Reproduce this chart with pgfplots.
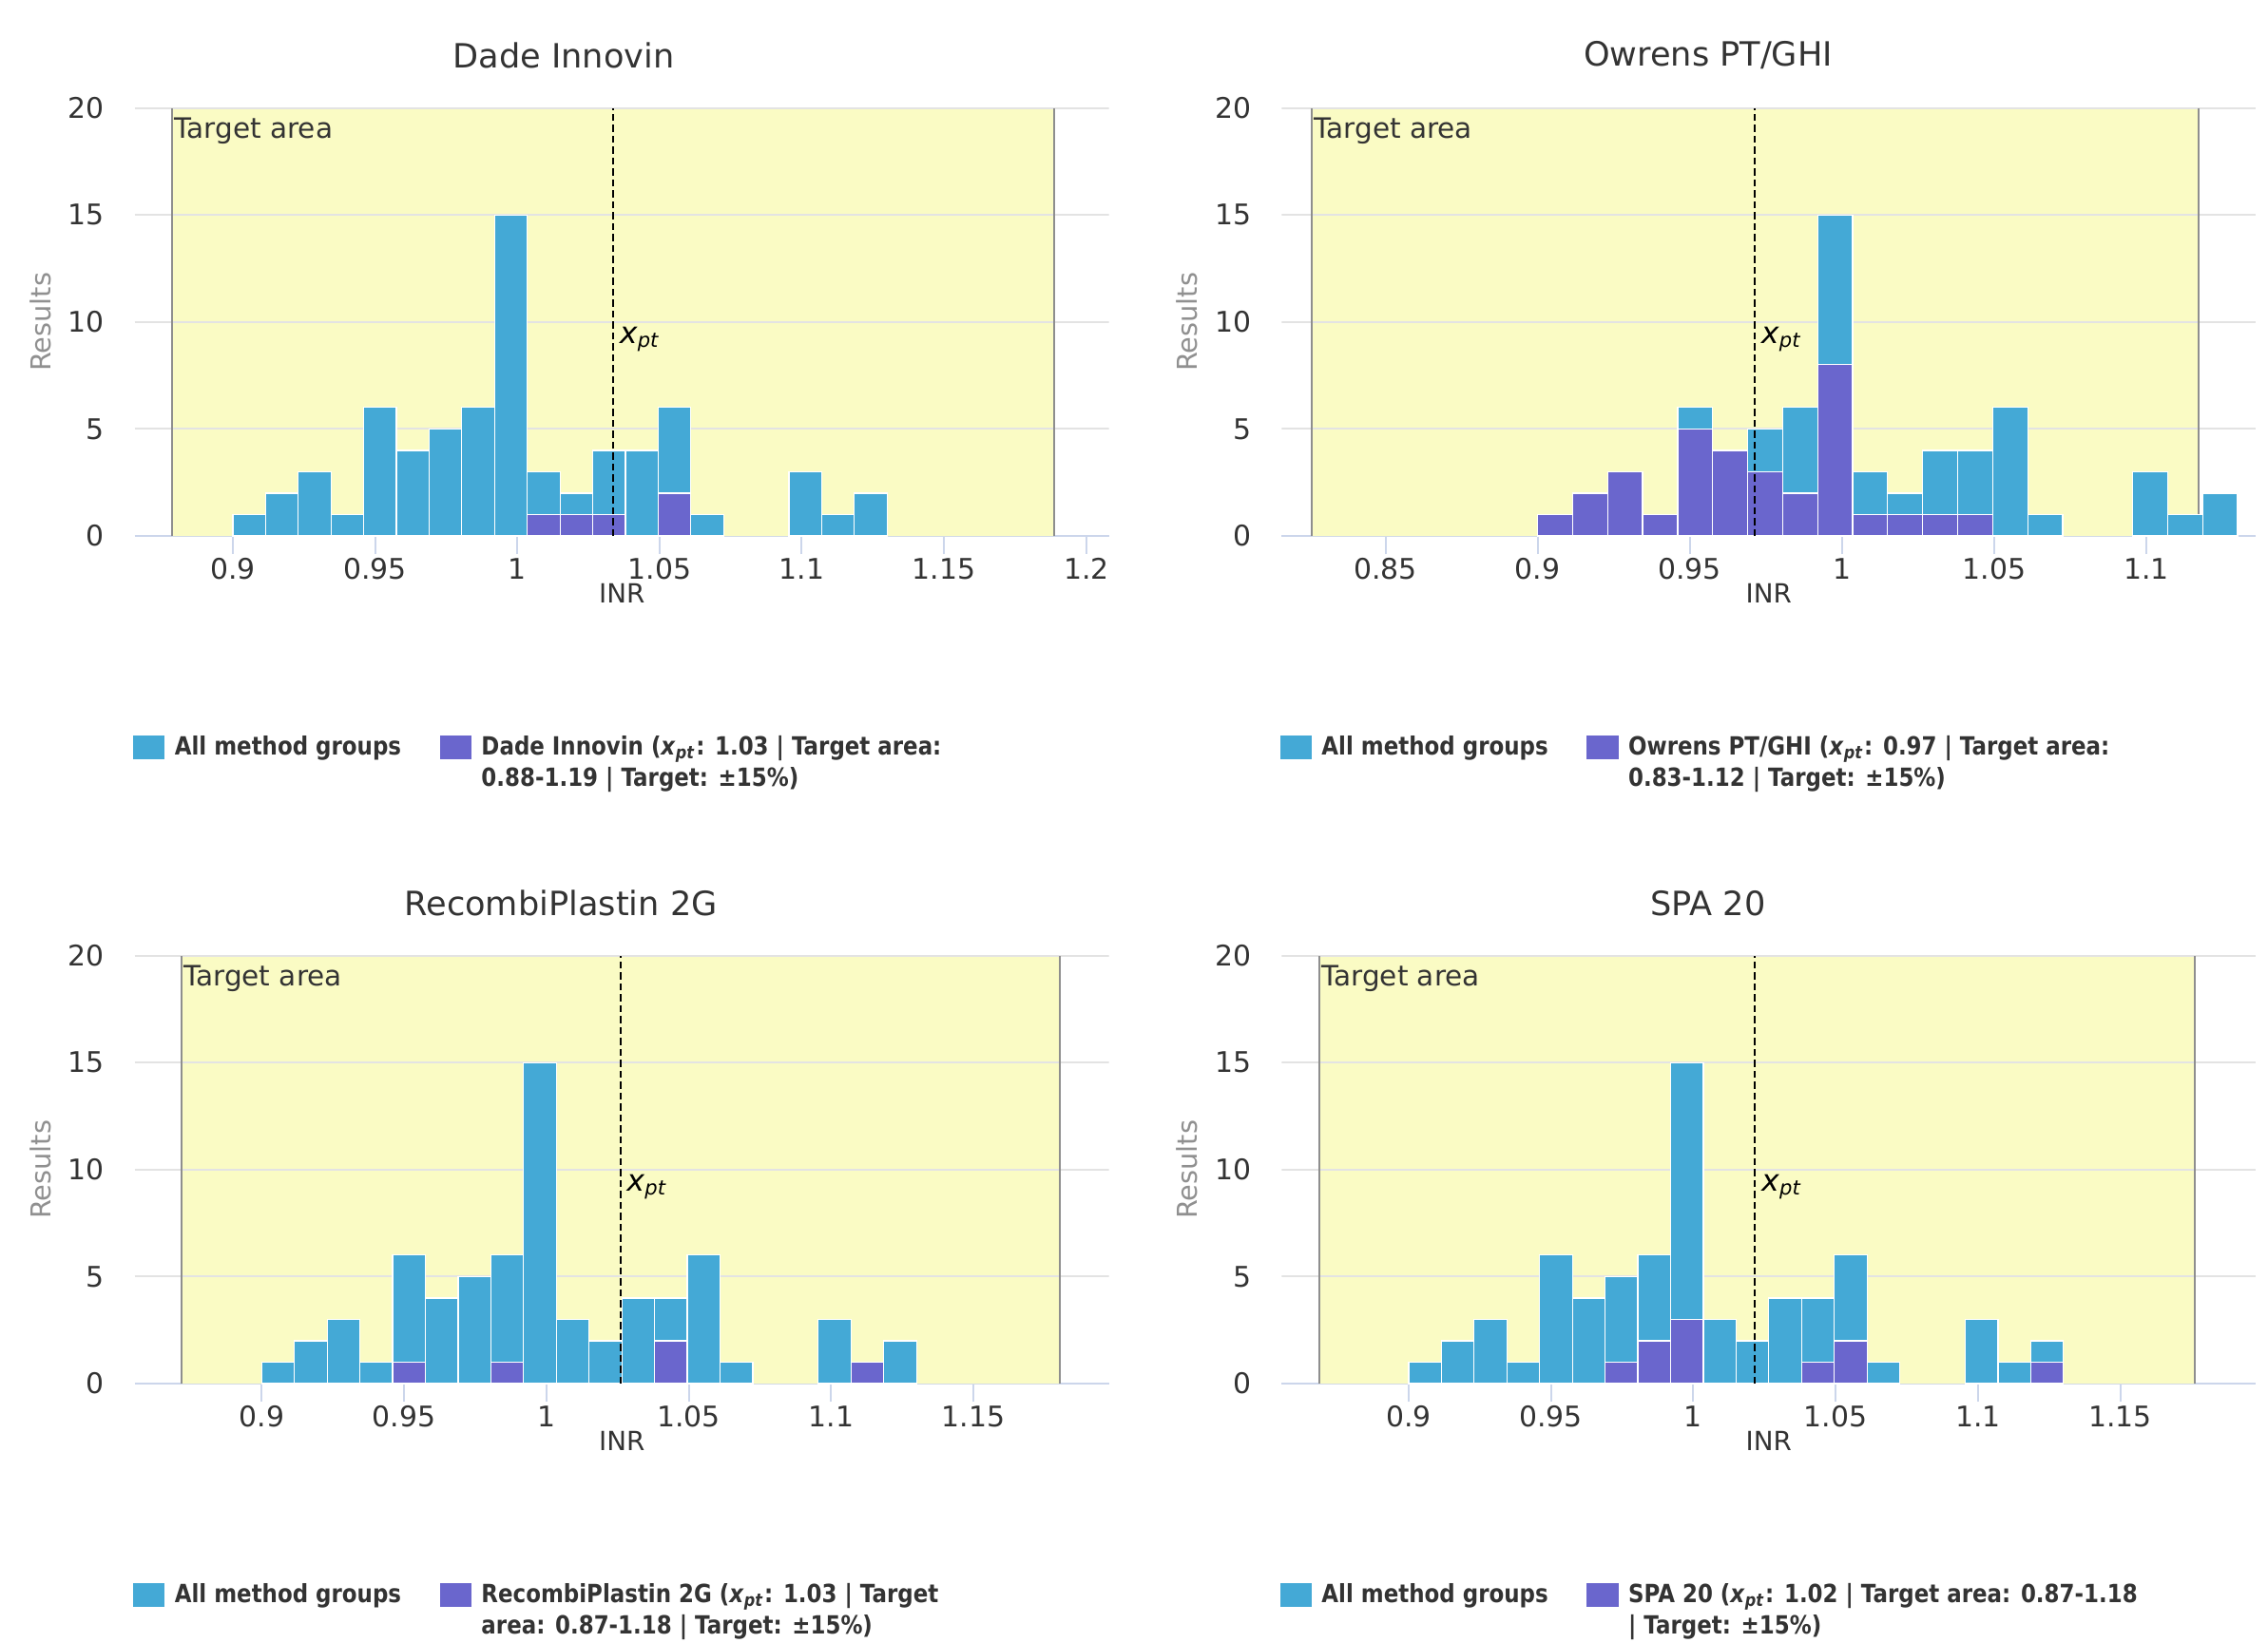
\documentclass[border=0pt]{standalone}
\usepackage{fontspec}
\setmainfont{DejaVu Sans}
\newfontfamily\legfont{DejaVu Sans}[FakeStretch=0.87]
\usepackage{pgfplots}
\usepackage{pgfplotstable}
\pgfplotsset{compat=1.18}

\definecolor{blueC}{HTML}{44A9D6}
\definecolor{purpC}{HTML}{6A66CD}
\definecolor{yellowC}{HTML}{FAFBC4}
\definecolor{gridC}{HTML}{E3E3E3}
\definecolor{axisC}{HTML}{CCD6EB}
\definecolor{bandB}{HTML}{8E8E8E}
\definecolor{labC}{HTML}{333333}
\definecolor{ylabC}{HTML}{909090}

% all method groups, bins of width 0.0115 starting at 0.9 (centres)
\pgfplotstableread{
x y
0.90575 1
0.91725 2
0.92875 3
0.94025 1
0.95175 6
0.96325 4
0.97475 5
0.98625 6
0.99775 15
1.00925 3
1.02075 2
1.03225 4
1.04375 4
1.05525 6
1.06675 1
1.10125 3
1.11275 1
1.12425 2
}\allgroups

\pgfplotstableread{
x y
1.00925 1
1.02075 1
1.03225 1
1.05525 2
}\dade

\pgfplotstableread{
x y
0.90575 1
0.91725 2
0.92875 3
0.94025 1
0.95175 5
0.96325 4
0.97475 3
0.98625 2
0.99775 8
1.00925 1
1.02075 1
1.03225 1
1.04375 1
}\owrens

\pgfplotstableread{
x y
0.95175 1
0.98625 1
1.04375 2
1.11275 1
}\recombi

\pgfplotstableread{
x y
0.97475 1
0.98625 2
0.99775 3
1.04375 1
1.05525 2
1.12425 1
}\spa

\pgfplotsset{
  panel/.style={
    scale only axis, width=102.5mm, height=45.05mm,
    anchor=south west,
    ymin=0, ymax=20, ytick={0,5,10,15,20},
    axis x line*=bottom, axis y line*=left,
    x axis line style={draw=axisC, line width=0.2mm, -},
    y axis line style={draw=none},
    tick align=outside,
    major tick length=1.9mm,
    xtick style={draw=axisC, line width=0.2mm},
    ytick style={draw=none},
    scaled x ticks=false,
    /pgf/number format/assume math mode=true,
    tick label style={font=\fontsize{8.5}{10}\selectfont, text=labC},
    yticklabel style={anchor=east, inner sep=0pt, xshift=-1.2mm},
    xticklabel style={anchor=north, inner sep=0pt, yshift=-0.37mm},
    xlabel={INR}, ylabel={Results},
    xlabel style={at={(0.5,-0.133)}, anchor=center, font=\fontsize{7.9}{9}\selectfont, text=labC},
    ylabel style={at={(-0.097,0.5)}, anchor=center, font=\fontsize{8.2}{10}\selectfont, text=ylabC},
    title style={anchor=center, yshift=-6pt, font=\fontsize{10}{12}\selectfont, text=labC},
    legend cell align=left,
    legend columns=2,
    legend style={at={(-0.0017,-0.4597)}, anchor=north west, draw=none, fill=none,
      inner sep=0pt, outer sep=0pt,
      font=\legfont\bfseries\fontsize{7.5}{9.4}\selectfont, text=labC,
      nodes={inner sep=0pt},
      cells={anchor=base west},
      /tikz/every odd column/.style={column sep=1.05mm},
      /tikz/every even column/.style={column sep=4.05mm}},
  },
  band/.style={fill=yellowC, draw=none, forget plot},
  bandedge/.style={bandB, line width=0.2mm, forget plot},
  gridl/.style={gridC, line width=0.2mm, forget plot},
  allbar/.style={ybar, bar width=0.0115, bar shift=0pt, fill=blueC, draw=white, line width=0.12mm, forget plot},
  grpbar/.style={ybar, bar width=0.0115, bar shift=0pt, fill=purpC, draw=white, line width=0.12mm, forget plot},
  xptline/.style={black, line width=0.2mm, dash pattern=on 0.75mm off 0.4mm, forget plot},
  bluekey/.style={legend image code/.code={\fill[blueC] (0mm,-0.4mm) rectangle (3.2mm,2.0mm);}},
  purpkey/.style={legend image code/.code={\fill[purpC] (0mm,-0.4mm) rectangle (3.2mm,2.0mm);}},
}
\newcommand{\xpt}{\textit{x}\textsubscript{\textit{pt}}}
\newcommand{\targetlabel}[1]{\node[anchor=base west, inner sep=0pt, xshift=0.2mm, yshift=-3.17mm, font=\fontsize{8.4}{10}\selectfont, text=labC] at (axis cs:#1,20) {Target area};}
\newcommand{\xptlabel}[1]{\node[anchor=west, inner sep=0pt, xshift=0.6mm, font=\fontsize{9}{10}\selectfont, text=black] at (axis cs:#1,9.2) {\xpt};}
% background: target band, its edges, horizontal grid lines
\newcommand{\backdrop}[4]{%
  \addplot[band] coordinates {(#1,0) (#1,20) (#2,20) (#2,0)} \closedcycle;
  \addplot[gridl] coordinates {(#3,5) (#4,5)};
  \addplot[gridl] coordinates {(#3,10) (#4,10)};
  \addplot[gridl] coordinates {(#3,15) (#4,15)};
  \addplot[gridl] coordinates {(#3,20) (#4,20)};
  \addplot[bandedge] coordinates {(#1,0) (#1,20)};
  \addplot[bandedge] coordinates {(#2,0) (#2,20)};
}

\begin{document}
\begin{tikzpicture}
\path[use as bounding box, fill=white] (0,0) rectangle (238.6mm,-172.8mm);

% ---------- Dade Innovin ----------
\begin{axis}[panel, at={(14.17mm,-56.4mm)},
  xmin=0.8655, xmax=1.2080, xtick={0.9,0.95,1,1.05,1.1,1.15,1.2},
  title={Dade Innovin}, title style={at={(0.4403,1.1227)}}]
\backdrop{0.8786}{1.1888}{0.8655}{1.2080}
\addplot[allbar] table[x=x,y=y] {\allgroups};
\addplot[grpbar] table[x=x,y=y] {\dade};
\addplot[xptline] coordinates {(1.0337,0) (1.0337,20)};
\targetlabel{0.8786}
\xptlabel{1.0337}
\addlegendimage{bluekey}
\addlegendentry{All method groups}
\addlegendimage{purpkey}
\addlegendentry{\begin{tabular}[t]{@{}l@{}}Dade Innovin (\xpt: 1.03 | Target area:\\0.88-1.19 | Target: ±15\%)\end{tabular}}
\end{axis}

% ---------- Owrens PT/GHI ----------
\begin{axis}[panel, at={(134.83mm,-56.4mm)},
  xmin=0.8159, xmax=1.1360, xtick={0.85,0.9,0.95,1,1.05,1.1},
  title={Owrens PT/GHI}, title style={at={(0.4378,1.1227)}}]
\backdrop{0.8257}{1.1171}{0.8159}{1.1360}
\addplot[allbar] table[x=x,y=y] {\allgroups};
\addplot[grpbar] table[x=x,y=y] {\owrens};
\addplot[xptline] coordinates {(0.9714,0) (0.9714,20)};
\targetlabel{0.8257}
\xptlabel{0.9714}
\addlegendimage{bluekey}
\addlegendentry{All method groups}
\addlegendimage{purpkey}
\addlegendentry{\begin{tabular}[t]{@{}l@{}}Owrens PT/GHI (\xpt: 0.97 | Target area:\\0.83-1.12 | Target: ±15\%)\end{tabular}}
\end{axis}

% ---------- RecombiPlastin 2G ----------
\begin{axis}[panel, at={(14.17mm,-145.6mm)},
  xmin=0.8554, xmax=1.1976, xtick={0.9,0.95,1,1.05,1.1,1.15},
  title={RecombiPlastin 2G}, title style={at={(0.4375,1.1227)}}]
\backdrop{0.8717}{1.1803}{0.8554}{1.1976}
\addplot[allbar] table[x=x,y=y] {\allgroups};
\addplot[grpbar] table[x=x,y=y] {\recombi};
\addplot[xptline] coordinates {(1.0260,0) (1.0260,20)};
\targetlabel{0.8717}
\xptlabel{1.0260}
\addlegendimage{bluekey}
\addlegendentry{All method groups}
\addlegendimage{purpkey}
\addlegendentry{\begin{tabular}[t]{@{}l@{}}RecombiPlastin 2G (\xpt: 1.03 | Target\\area: 0.87-1.18 | Target: ±15\%)\end{tabular}}
\end{axis}

% ---------- SPA 20 ----------
\begin{axis}[panel, at={(134.83mm,-145.6mm)},
  xmin=0.8554, xmax=1.1976, xtick={0.9,0.95,1,1.05,1.1,1.15},
  title={SPA 20}, title style={at={(0.4378,1.1227)}}]
\backdrop{0.8685}{1.1760}{0.8554}{1.1976}
\addplot[allbar] table[x=x,y=y] {\allgroups};
\addplot[grpbar] table[x=x,y=y] {\spa};
\addplot[xptline] coordinates {(1.0217,0) (1.0217,20)};
\targetlabel{0.8685}
\xptlabel{1.0217}
\addlegendimage{bluekey}
\addlegendentry{All method groups}
\addlegendimage{purpkey}
\addlegendentry{\begin{tabular}[t]{@{}l@{}}SPA 20 (\xpt: 1.02 | Target area: 0.87-1.18\\| Target: ±15\%)\end{tabular}}
\end{axis}
\end{tikzpicture}
\end{document}
